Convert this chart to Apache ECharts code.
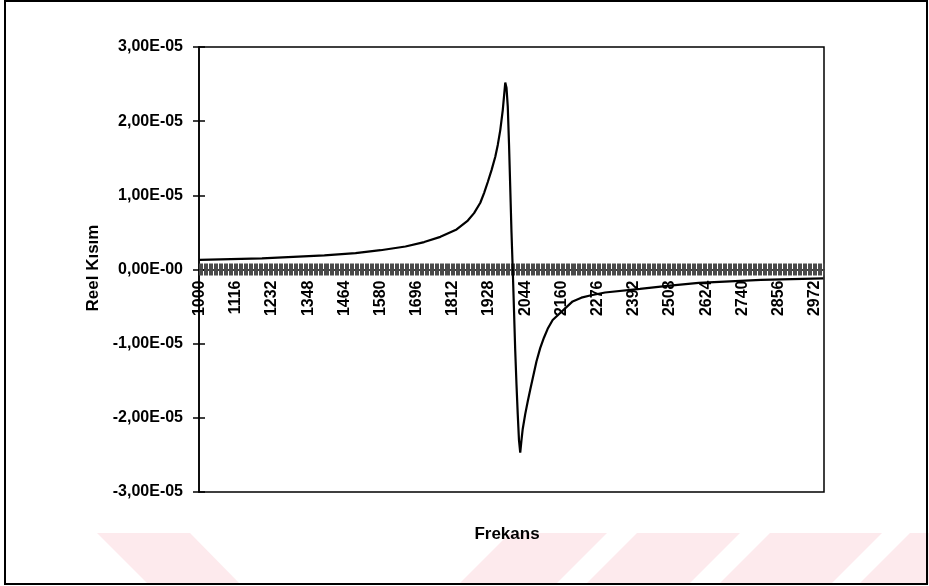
<!DOCTYPE html>
<html>
<head>
<meta charset="utf-8">
<script src="https://cdn.jsdelivr.net/npm/echarts@6/dist/echarts.min.js"></script>
<style>
html,body{margin:0;padding:0;background:#fff;}
#chart{width:929px;height:586px;}
</style>
</head>
<body>
<div id="chart"></div>
<script>
// Frequency categories: 1000 .. 3000, step 4
const freqStart = 1000, freqEnd = 3000, freqStep = 4;
const categories = [];
for (let f = freqStart; f <= freqEnd; f += freqStep) categories.push(String(f));

// Read points of the curve (frequency, real part)
const curveFreq = [1000,1100,1200,1300,1400,1500,1580,1660,1720,1772,1824,1860,1880,1900,1912,1924,1936,1948,1956,1964,1972,1980,1984,1988,1992,1996,2000,2004,2008,2012,2016,2020,2024,2028,2032,2036,2044,2052,2060,2070,2080,2092,2104,2116,2132,2150,2170,2196,2224,2252,2300,2350,2412,2500,2600,2700,2800,2900,3000];
const curveVal = [1.3e-6,1.4e-6,1.5e-6,1.7e-6,1.9e-6,2.2e-6,2.6e-6,3.1e-6,3.7e-6,4.4e-6,5.4e-6,6.6e-6,7.6e-6,9.0e-6,1.03e-5,1.18e-5,1.34e-5,1.52e-5,1.68e-5,1.88e-5,2.15e-5,2.52e-5,2.45e-5,2.2e-5,1.7e-5,1.1e-5,5.0e-6,0,-5.5e-6,-1.1e-5,-1.55e-5,-1.95e-5,-2.3e-5,-2.47e-5,-2.3e-5,-2.15e-5,-1.95e-5,-1.78e-5,-1.62e-5,-1.42e-5,-1.24e-5,-1.06e-5,-9.2e-6,-8.0e-6,-6.8e-6,-5.8e-6,-5.0e-6,-4.3e-6,-3.8e-6,-3.5e-6,-3.1e-6,-2.8e-6,-2.6e-6,-2.2e-6,-1.8e-6,-1.6e-6,-1.4e-6,-1.3e-6,-1.2e-6];

// Y axis
const yMin = -3e-5, yMax = 3e-5, yStep = 1e-5;
const yTitle = 'Reel Kısım';
const xTitle = 'Frekans';

// one slot per category; read points placed on their category, the rest left empty
const seriesData = categories.map(() => null);
curveFreq.forEach((f, i) => { seriesData[categories.indexOf(String(f))] = curveVal[i]; });

function fmtY(v) {
  if (Math.abs(v) < 1e-12) return '0,00E-00';
  return (Math.round(v / 1e-5)).toFixed(2).replace('.', ',') + 'E-05';
}

const FONT = 'Arial, "Liberation Sans", sans-serif';
const chart = echarts.init(document.getElementById('chart'), null, {renderer: 'canvas'});
const G = {left: 199, top: 47, width: 625, height: 445};
// the category axis crosses the value axis at 0: shift it up from the bottom edge
const zeroShift = -G.height * (0 - yMin) / (yMax - yMin);
const tickColor = '#4a4a4a';

chart.setOption({
  animation: false,
  backgroundColor: '#fff',
  grid: [
    {left: G.left, top: G.top, width: G.width, height: G.height, show: true, borderColor: '#000', borderWidth: 1.5, containLabel: false},
    {left: G.left, top: G.top, width: G.width, height: G.height, show: false, containLabel: false}
  ],
  xAxis: [{
    gridIndex: 0, type: 'category', data: categories, boundaryGap: true, position: 'bottom', offset: zeroShift,
    axisLine: {onZero: false, lineStyle: {color: '#000', width: 1.5}},
    axisTick: {show: true, interval: 0, length: 6, lineStyle: {color: tickColor, width: 1}},
    axisLabel: {interval: 28, rotate: 90, margin: 11, color: '#000', fontFamily: FONT, fontWeight: 'bold', fontSize: 16},
    splitLine: {show: false}
  }, {
    gridIndex: 1, type: 'category', data: categories, boundaryGap: true, position: 'bottom', offset: zeroShift,
    axisLine: {show: false, onZero: false},
    axisTick: {show: true, inside: true, interval: 0, length: 6, lineStyle: {color: tickColor, width: 1}},
    axisLabel: {show: false}, splitLine: {show: false}
  }],
  yAxis: [{
    gridIndex: 0, type: 'value', min: yMin, max: yMax, interval: yStep, position: 'left',
    axisLine: {show: true, lineStyle: {color: '#000', width: 1.5}},
    axisTick: {show: true, length: 6, lineStyle: {color: '#000', width: 1.5}},
    axisLabel: {formatter: fmtY, margin: 16, color: '#000', fontFamily: FONT, fontWeight: 'bold', fontSize: 16},
    splitLine: {show: false}
  }, {
    gridIndex: 1, type: 'value', min: yMin, max: yMax, interval: yStep, position: 'left',
    axisLine: {show: false},
    axisTick: {show: true, inside: true, length: 6, lineStyle: {color: '#000', width: 1.5}},
    axisLabel: {show: false}, splitLine: {show: false}
  }],
  series: [{
    type: 'line', xAxisIndex: 0, yAxisIndex: 0, data: seriesData, connectNulls: true,
    showSymbol: false, symbol: 'none', smooth: false,
    lineStyle: {color: '#000', width: 2.2}
  }],
  graphic: [
    {type: 'polygon', z: -5, shape: {points: [[97,533],[190,533],[240,584],[148,584]]}, style: {fill: '#fdeaed'}},
    {type: 'polygon', z: -5, shape: {points: [[510,533],[607,533],[556,584],[459,584]]}, style: {fill: '#fdeaed'}},
    {type: 'polygon', z: -5, shape: {points: [[637,533],[740,533],[689,584],[586,584]]}, style: {fill: '#fdeaed'}},
    {type: 'polygon', z: -5, shape: {points: [[770,533],[882,533],[831,584],[719,584]]}, style: {fill: '#fdeaed'}},
    {type: 'polygon', z: -5, shape: {points: [[910,533],[929,533],[929,584],[859,584]]}, style: {fill: '#fdeaed'}},
    {type: 'rect', shape: {x: 5, y: 1, width: 922, height: 583}, style: {fill: 'none', stroke: '#000', lineWidth: 2}},
    {type: 'text', x: 93, y: 268, rotation: Math.PI / 2, style: {text: yTitle, fill: '#000', font: 'bold 17px ' + FONT, align: 'center', verticalAlign: 'middle'}},
    {type: 'text', x: 507, y: 534, style: {text: xTitle, fill: '#000', font: 'bold 17px ' + FONT, align: 'center', verticalAlign: 'middle'}}
  ]
});
</script>
</body>
</html>
